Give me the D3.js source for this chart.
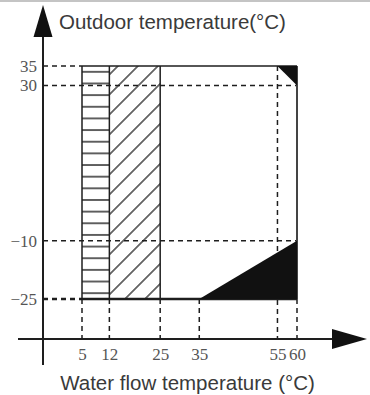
<!DOCTYPE html>
<html>
<head>
<meta charset="utf-8">
<script src="https://cdn.jsdelivr.net/npm/d3@7"></script>
<style>
  body { margin: 0; background: #fff; }
  svg { display: block; }
</style>
</head>
<body>
<script>
// operating range chart: water flow temp vs outdoor temp
const xTicks = [5, 12, 25, 35, 55, 60];
const yTicks = [35, 30, -10, -25];
const waterRange = [5, 60];
const outdoorRange = [-25, 35];
const hatchBand = [5, 12];      // horizontal hatching
const diagBand = [12, 25];      // diagonal hatching
const fullDashY = [30, -10];    // dashed across the whole range
const stubDashY = [35, -25];    // dashed only from the axis
const dropDashX = [5, 12, 25, 35, 55, 60];
const limitTop = [[55, 35], [60, 35], [60, 30]];
const limitBottom = [[35, -25], [60, -10], [60, -25]];

const W = 370, H = 395;
const axisX = 43, axisY = 339;
const ink = "#1e1e1e";

const x = d3.scaleLinear().domain(waterRange).range([82, 297]);
const y = d3.scaleLinear().domain(outdoorRange).range([299, 66]);

const svg = d3.select("body").append("svg")
  .attr("width", W).attr("height", H);

svg.append("rect").attr("width", W).attr("height", H).attr("fill", "#fff");
svg.append("rect").attr("width", W).attr("height", 2).attr("fill", "#c4c4c4");

const defs = svg.append("defs");
const step = y(0) - y(3);
defs.append("pattern")
  .attr("id", "hh")
  .attr("patternUnits", "userSpaceOnUse")
  .attr("width", 10).attr("height", step)
  .attr("y", y(33.5) - step / 2)
  .append("line")
  .attr("x1", 0).attr("x2", 10)
  .attr("y1", step / 2).attr("y2", step / 2)
  .attr("stroke", ink).attr("stroke-width", 1.4);

const dw = 20 / Math.SQRT2;
defs.append("pattern")
  .attr("id", "dh")
  .attr("patternUnits", "userSpaceOnUse")
  .attr("width", dw).attr("height", 10)
  .attr("patternTransform", "rotate(45)")
  .append("line")
  .attr("x1", 2.8).attr("x2", 2.8)
  .attr("y1", 0).attr("y2", 10)
  .attr("stroke", ink).attr("stroke-width", 1.3);

// hatched bands
svg.append("rect")
  .attr("x", x(hatchBand[0])).attr("width", x(hatchBand[1]) - x(hatchBand[0]))
  .attr("y", y(35)).attr("height", y(-25) - y(35))
  .attr("fill", "url(#hh)");
svg.append("rect")
  .attr("x", x(diagBand[0])).attr("width", x(diagBand[1]) - x(diagBand[0]))
  .attr("y", y(35)).attr("height", y(-25) - y(35))
  .attr("fill", "url(#dh)");

// dashed guides
const dash = svg.append("g").attr("stroke", ink).attr("stroke-dasharray", "5,4").attr("fill", "none");
dash.selectAll(".full").data(fullDashY).join("line")
  .attr("x1", axisX).attr("x2", x(60))
  .attr("y1", d => y(d)).attr("y2", d => y(d))
  .attr("stroke-width", 1.5);
dash.selectAll(".stub").data(stubDashY).join("line")
  .attr("x1", axisX).attr("x2", x(5))
  .attr("y1", d => y(d)).attr("y2", d => y(d))
  .attr("stroke-width", d => d < 0 ? 2.6 : 1.5);
dash.selectAll(".drop").data(dropDashX).join("line")
  .attr("x1", d => x(d)).attr("x2", d => x(d))
  .attr("y1", d => d === 55 ? y(35) : y(-25)).attr("y2", axisY)
  .attr("stroke-width", 1.5);

// solid boundaries
const solid = svg.append("g").attr("stroke", ink).attr("fill", "none");
solid.append("line").attr("x1", x(5)).attr("x2", x(60)).attr("y1", y(35)).attr("y2", y(35)).attr("stroke-width", 1.5);
solid.append("line").attr("x1", x(5)).attr("x2", x(60)).attr("y1", y(-25)).attr("y2", y(-25)).attr("stroke-width", 2.6);
solid.selectAll(".v").data([5, 12, 25]).join("line")
  .attr("x1", d => x(d)).attr("x2", d => x(d))
  .attr("y1", y(35)).attr("y2", y(-25)).attr("stroke-width", 1.5);
solid.append("line").attr("x1", x(60)).attr("x2", x(60)).attr("y1", y(35)).attr("y2", y(-25))
  .attr("stroke", "#444").attr("stroke-width", 2);

// out-of-range corners
const poly = d3.line().x(d => x(d[0])).y(d => y(d[1]));
svg.selectAll(".lim").data([limitTop, limitBottom]).join("path")
  .attr("d", d => poly(d) + "Z")
  .attr("fill", "#111");

// axes lines with arrows
svg.append("line").attr("x1", axisX).attr("x2", axisX).attr("y1", 20).attr("y2", 365)
  .attr("stroke", ink).attr("stroke-width", 2);
svg.append("path").attr("d", `M${axisX},5 L${axisX + 9.5},37 L${axisX - 9.5},37Z`).attr("fill", "#111");
svg.append("line").attr("x1", 18).attr("x2", 345).attr("y1", axisY).attr("y2", axisY)
  .attr("stroke", ink).attr("stroke-width", 2);
svg.append("path").attr("d", `M367,${axisY} L332,${axisY - 10} L332,${axisY + 10}Z`).attr("fill", "#111");

// tick labels
const serif = "'Liberation Serif', 'Times New Roman', serif";
const gx = svg.append("g").attr("transform", `translate(0,${axisY})`)
  .call(d3.axisBottom(x).tickValues(xTicks).tickSize(0).tickPadding(9));
gx.select(".domain").remove();
gx.attr("font-size", 17).attr("font-family", serif);
gx.selectAll("text").attr("fill", "#555");

const gy = svg.append("g").attr("transform", `translate(${axisX},0)`)
  .call(d3.axisLeft(y).tickValues(yTicks).tickSize(0).tickPadding(6)
    .tickFormat(d => d < 0 ? "\u2212" + Math.abs(d) : d));
gy.select(".domain").remove();
gy.attr("font-size", 17).attr("font-family", serif);
gy.selectAll("text").attr("fill", "#555");

// titles
const sans = "'Liberation Sans', Arial, sans-serif";
svg.append("text").attr("x", 59).attr("y", 29)
  .attr("font-family", sans).attr("font-size", 20.5).attr("fill", "#3a3a3a")
  .text("Outdoor temperature(°C)");
svg.append("text").attr("x", 187.5).attr("y", 390)
  .attr("text-anchor", "middle")
  .attr("font-family", sans).attr("font-size", 20.5).attr("fill", "#3a3a3a")
  .text("Water flow temperature (°C)");
</script>
</body>
</html>
